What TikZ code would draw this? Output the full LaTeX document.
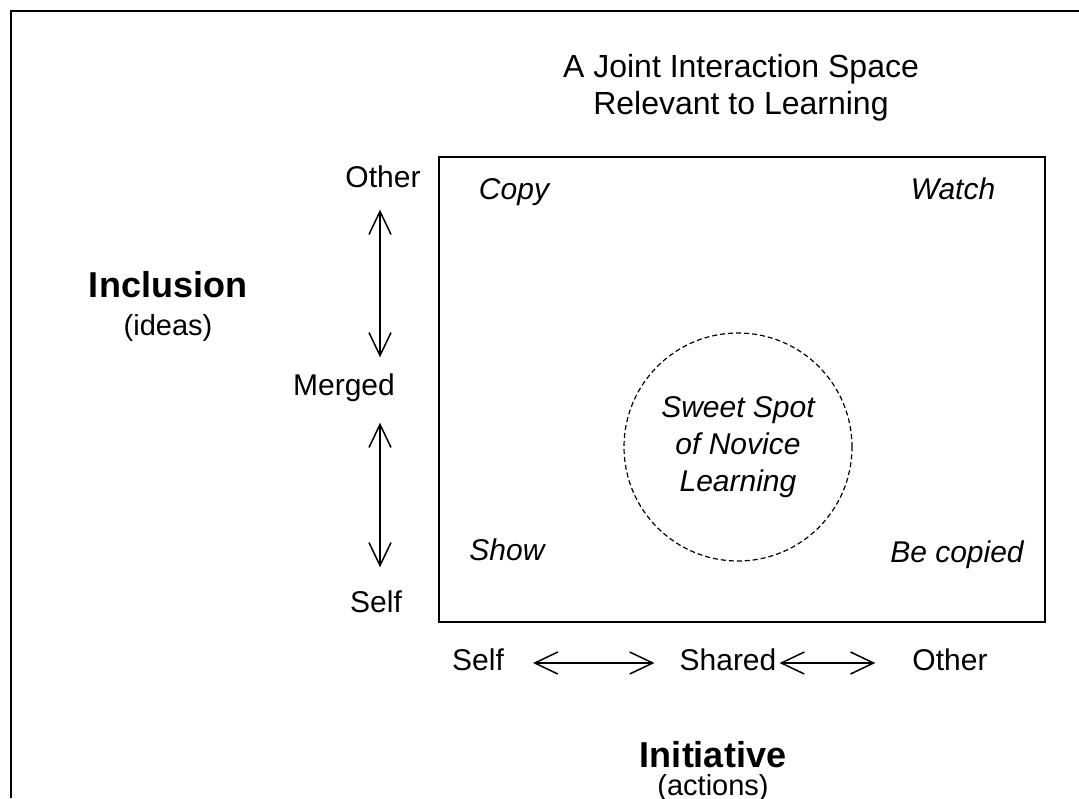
\documentclass[tikz,border=0pt]{standalone}
\usepackage{fontspec}
\setmainfont{Liberation Sans}
\usetikzlibrary{arrows.meta}

\tikzset{
  lbl/.style={inner sep=0pt, font=\fontsize{30}{36}\selectfont, text height=21pt, text depth=6pt},
  corner/.style={lbl, font=\fontsize{30}{36}\selectfont\itshape},
  axisname/.style={inner sep=0pt, font=\fontsize{36}{40}\selectfont\bfseries},
  axissub/.style={inner sep=0pt, font=\fontsize{29}{34}\selectfont},
  dblarrow/.style={line width=1.5pt, {Straight Barb[length=23pt,width=22pt]}-{Straight Barb[length=23pt,width=22pt]}},
}

\begin{document}
\begin{tikzpicture}[x=1pt,y=-1pt]
\useasboundingbox (0,0) rectangle (1079,798);
\draw[line width=2.5pt] (11,798) -- (11,11) -- (1079,11);

\node[align=center, inner sep=0pt, font=\fontsize{32}{37}\selectfont] (Title) at (741,88) {A Joint Interaction Space\\Relevant to Learning};

\node[draw, line width=2pt, inner sep=0pt, minimum width=606pt, minimum height=465pt, anchor=north west] (Space) at (438,156) {};
\node[draw, circle, dashed, dash pattern=on 5pt off 3pt, line width=1.2pt, inner sep=0pt, minimum size=228pt, align=center, font=\fontsize{30}{37}\selectfont\itshape] (Sweet) at (738,447) {Sweet Spot\\of Novice\\Learning};

\node[corner] (Copy) at (514,192) {Copy};
\node[corner] (Watch) at (953,192) {Watch};
\node[corner] (Show) at (507,553) {Show};
\node[corner] (Becopied) at (957,555) {Be copied};

\node[lbl] (InOther) at (383,180) {Other};
\node[lbl] (InMerged) at (344,388) {Merged};
\node[lbl] (InSelf) at (376,605) {Self};
\coordinate (InAxis) at (380,0);
\draw[dblarrow, shorten <=16pt, shorten >=17pt] (InOther.south -| InAxis) -- (InMerged.north -| InAxis);
\draw[dblarrow, shorten <=21pt, shorten >=24pt] (InMerged.south -| InAxis) -- (InSelf.north -| InAxis);

\node[axisname] (Inclusion) at (168,285) {Inclusion};
\node[axissub] (Ideas) at (168,328) {(ideas)};

\node[lbl] (IniSelf) at (478,663) {Self};
\node[lbl] (IniShared) at (728,663) {Shared};
\node[lbl] (IniOther) at (950,663) {Other};
\draw[dblarrow, shorten <=29pt, shorten >=25pt] (IniSelf.east) -- (IniShared.west);
\draw[dblarrow, shorten <=3pt, shorten >=37pt] (IniShared.east) -- (IniOther.west);

\node[axisname] (Initiative) at (713,755) {Initiative};
\node[axissub] (Actions) at (713,788) {(actions)};
\end{tikzpicture}
\end{document}
